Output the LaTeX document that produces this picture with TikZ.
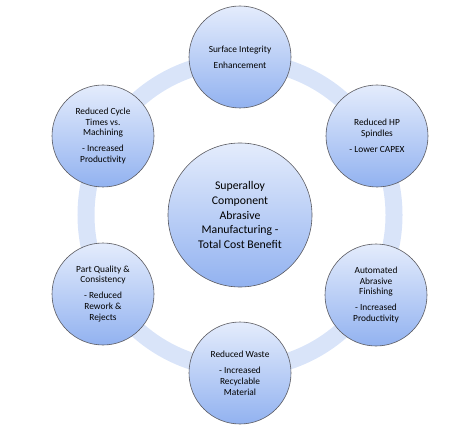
\documentclass[tikz,border=0pt]{standalone}
\usepackage{fontspec}
\setmainfont{Carlito}
\definecolor{ringBlue}{RGB}{217,228,249}
\definecolor{bubbleTop}{RGB}{228,236,252}
\definecolor{bubbleBottom}{RGB}{146,178,240}
\definecolor{bubbleEdge}{RGB}{90,90,96}
\begin{document}
\begin{tikzpicture}[x=1bp, y=-1bp,
    bubble/.style={circle, draw=bubbleEdge, line width=0.6bp, minimum size=102bp, inner sep=0pt, align=center, font=\fontsize{9.4}{11}\selectfont, top color=bubbleTop, bottom color=bubbleBottom},
    hub/.style={circle, draw=bubbleEdge, line width=0.6bp, minimum size=144bp, inner sep=0pt, align=center, font=\fontsize{11.8}{15}\selectfont, top color=bubbleTop, bottom color=bubbleBottom}
]
    \useasboundingbox (0,0) rectangle (459,433);

    \coordinate (mid) at (240,215);
    \draw[ringBlue, line width=17bp] (mid) circle (154bp);

    \node[hub] (costBenefit) at (mid) {Superalloy\\Component\\Abrasive\\Manufacturing -\\Total Cost Benefit};

    \node[bubble] (surface) at (240,57) {Surface Integrity\\[5bp]Enhancement};
    \node[bubble] (spindles) at (377,136) {Reduced HP\\Spindles\\[5bp]- Lower CAPEX};
    \node[bubble] (finishing) at (376,295) {Automated\\Abrasive\\Finishing\\[5bp]- Increased\\Productivity};
    \node[bubble] (waste) at (240,373) {Reduced Waste\\[5bp]- Increased\\Recyclable\\Material};
    \node[bubble] (quality) at (103,294) {Part Quality \&\\Consistency\\[5bp]- Reduced\\Rework \&\\Rejects};
    \node[bubble] (cycle) at (103,136) {Reduced Cycle\\Times vs.\\Machining\\[5bp]- Increased\\Productivity};
\end{tikzpicture}
\end{document}
